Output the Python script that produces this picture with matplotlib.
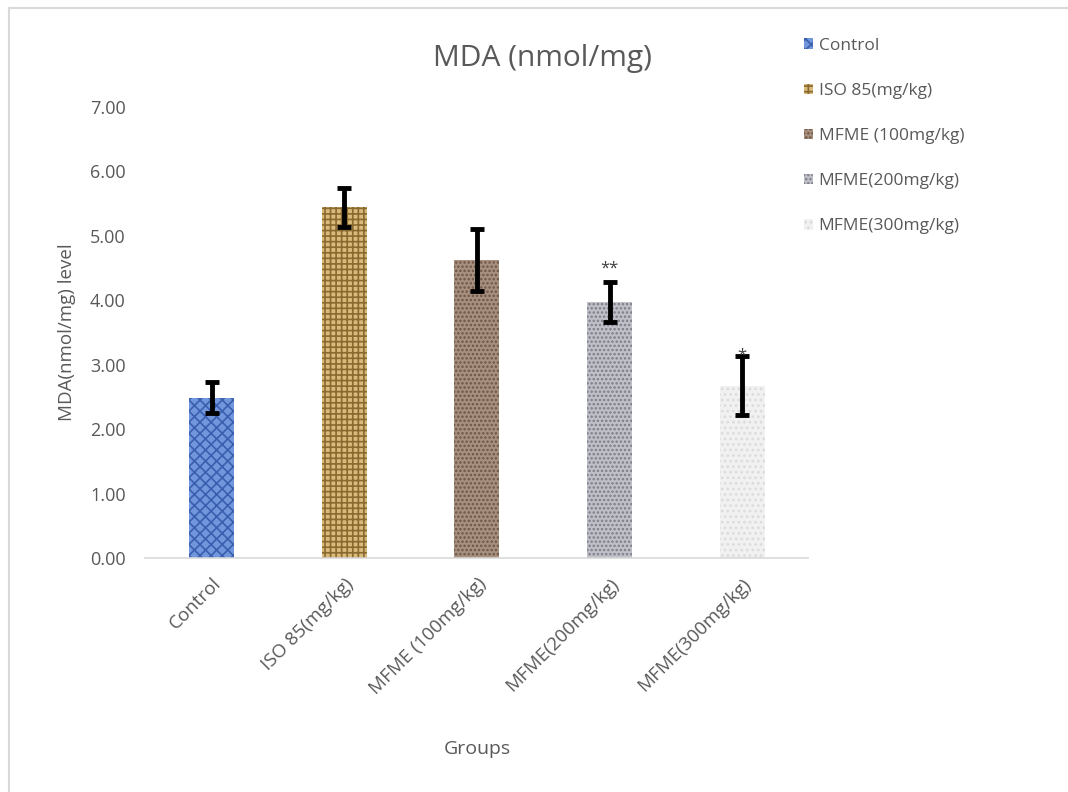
import matplotlib
matplotlib.use("Agg")
import matplotlib.pyplot as plt
from matplotlib.patches import Rectangle
from matplotlib.lines import Line2D

plt.rcParams['font.family'] = ['Open Sans', 'DejaVu Sans']
plt.rcParams['hatch.linewidth'] = 1.2

groups = ['Control', 'ISO 85(mg/kg)', 'MFME (100mg/kg)', 'MFME(200mg/kg)', 'MFME(300mg/kg)']
mda = [2.48, 5.44, 4.62, 3.97, 2.67]
err_low = [0.23, 0.30, 0.48, 0.31, 0.45]
err_high = [0.25, 0.30, 0.48, 0.31, 0.47]
marks = ['', '', '', '**', '*']
yticks = [0, 1, 2, 3, 4, 5, 6, 7]

faces = ['#7196dc', '#d9ba7a', '#a89080', '#c0c0c8', '#f1f1f1']
hatch_cols = ['#3a5fae', '#8a6a30', '#6e5646', '#7d7d88', '#dcdcdc']
hatches = ['xxx', '+++', '....', '....', '...']
grey = '#595959'

fig = plt.figure(figsize=(10.68, 7.92), dpi=100)
# outer chart frame (only left and top edges are inside the image)
fig.add_artist(Line2D([0.008, 0.008], [0.0, 0.99], color='#d9d9d9', lw=1.5,
                      transform=fig.transFigure))
fig.add_artist(Line2D([0.008, 1.0], [0.99, 0.99], color='#d9d9d9', lw=1.5,
                      transform=fig.transFigure))
ax = fig.add_axes([0.136, 0.2955, 0.621, 0.5695])

x = range(len(groups))
bars = ax.bar(x, mda, width=0.34, color=faces, edgecolor=hatch_cols, linewidth=0)
for b, h, hc in zip(bars, hatches, hatch_cols):
    b.set_hatch(h)
    b._hatch_color = matplotlib.colors.to_rgba(hc)
ax.errorbar(x, mda, yerr=[err_low, err_high], fmt='none', ecolor='black',
            elinewidth=3.5, capsize=5, capthick=3.5)
for i, m in enumerate(marks):
    if m == '**':
        ax.text(i, mda[i] + err_high[i] + 0.08, m, ha='center', va='bottom',
                fontsize=12, color='#404040')
    elif m:
        ax.text(i, mda[i] + err_high[i] - 0.12, m, ha='center', va='bottom',
                fontsize=12, color='#404040')

# legend
handles = [Rectangle((0, 0), 1, 1, facecolor=f, hatch=h, edgecolor=hc, lw=0)
           for f, h, hc in zip(faces, hatches, hatch_cols)]
leg = fig.legend(handles, groups, loc='upper left', bbox_to_anchor=(0.738, 0.972),
                 frameon=False, fontsize=12.5, labelcolor=grey, handlelength=0.55,
                 handleheight=0.55, handletextpad=0.3, labelspacing=1.68)

ax.set_xlim(-0.5, 4.5)
ax.set_ylim(0, 7)
ax.set_yticks(yticks)
ax.set_yticklabels([f'{v:.2f}' for v in yticks], color=grey, fontsize=13)
ax.set_xticks(list(x))
ax.set_xticklabels(groups, rotation=45, ha='right', rotation_mode='anchor',
                   color=grey, fontsize=13.5)
ax.tick_params(axis='y', length=0, pad=14)
ax.tick_params(axis='x', length=0, pad=12)
for s in ['top', 'right', 'left']:
    ax.spines[s].set_visible(False)
ax.spines['bottom'].set_color('#d9d9d9')
ax.spines['bottom'].set_linewidth(1.2)

ax.set_ylabel('MDA(nmol/mg) level', color=grey, fontsize=13.5, labelpad=10)
ax.set_xlabel('Groups', color=grey, fontsize=14, labelpad=30)
fig.text(0.508, 0.926, 'MDA (nmol/mg)', color=grey, fontsize=21.5,
         ha='center', va='center')

fig.savefig('out.png', dpi=100, facecolor='white')
